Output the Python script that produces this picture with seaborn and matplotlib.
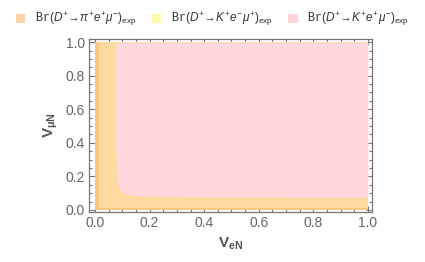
import matplotlib
matplotlib.use("Agg")
import matplotlib.pyplot as plt
from matplotlib.patches import Patch
from matplotlib.ticker import MultipleLocator, FormatStrFormatter
import seaborn as sns

sns.set_style("ticks")
plt.rcParams['font.family'] = ['Liberation Sans', 'DejaVu Sans']
plt.rcParams['mathtext.fontset'] = 'custom'
plt.rcParams['mathtext.rm'] = 'Liberation Sans'
plt.rcParams['mathtext.it'] = 'Liberation Sans:italic'
plt.rcParams['mathtext.bf'] = 'Liberation Sans:bold'
plt.rcParams['mathtext.tt'] = 'Liberation Mono'

# legend labels
labels = [
    r"$\mathtt{Br}(D^{+}\!\rightarrow\!\pi^{+}e^{+}\mu^{-})_{\mathrm{exp}}$",
    r"$\mathtt{Br}(D^{+}\!\rightarrow\!K^{+}e^{-}\mu^{+})_{\mathrm{exp}}$",
    r"$\mathtt{Br}(D^{+}\!\rightarrow\!K^{+}e^{+}\mu^{-})_{\mathrm{exp}}$",
]
colors = ["#fcd2a8", "#fffaaa", "#ffd5da"]

# region fills
orange_light = "#fed9a0"
orange_dark = "#fcc77f"
pink = "#ffd7dc"

# dark band near the axes
dark_x = 0.015
dark_y = 0.012

# pink region lower boundary (x, y)
pink_x = [0.076, 0.077, 0.079, 0.083, 0.090, 0.100, 0.120, 0.150, 0.200, 0.400, 1.000]
pink_y = [1.000, 0.350, 0.220, 0.160, 0.125, 0.105, 0.092, 0.085, 0.081, 0.078, 0.077]

fig = plt.figure(figsize=(4.25, 2.62), dpi=100)
ax = fig.add_axes([0.2094, 0.1908, 0.666, 0.660])

# light orange on the whole square
ax.fill_between([0, 1], 0, 1, color=orange_light, lw=0)
# darker band along the edges
ax.fill_between([0, dark_x], 0, 1, color=orange_dark, lw=0)
ax.fill_between([0, 1], 0, dark_y, color=orange_dark, lw=0)
# pink region
ax.fill_between(pink_x, pink_y, 1, color=pink, lw=0)

ax.set_xlim(-0.022, 1.015)
ax.set_ylim(-0.012, 1.018)
ax.xaxis.set_major_locator(MultipleLocator(0.2))
ax.yaxis.set_major_locator(MultipleLocator(0.2))
ax.xaxis.set_minor_locator(MultipleLocator(0.05))
ax.yaxis.set_minor_locator(MultipleLocator(0.05))
ax.xaxis.set_major_formatter(FormatStrFormatter('%.1f'))
ax.yaxis.set_major_formatter(FormatStrFormatter('%.1f'))
ax.tick_params(which='both', direction='in', top=True, right=True,
               color='#777777', labelcolor='#666666', labelsize=10, width=0.8)
ax.tick_params(which='major', length=4, pad=3)
ax.tick_params(which='minor', length=2)
for s in ax.spines.values():
    s.set_color('#777777')
    s.set_linewidth(0.9)

ax.set_xlabel(r"$\mathbf{V_{eN}}$", fontsize=11, color='#555555', labelpad=4)
ax.set_ylabel(r"$\mathbf{V_{\mu N}}$", fontsize=11, color='#555555', labelpad=4)

handles = [Patch(facecolor=c, edgecolor='none') for c in colors]
fig.legend(handles, labels, loc='upper center', bbox_to_anchor=(0.5, 1.0), ncol=3,
           frameon=False, fontsize=8.5, handlelength=0.8, handleheight=0.8,
           handletextpad=0.8, columnspacing=1.3, labelcolor='#333333')

fig.savefig("out.png", dpi=100)
